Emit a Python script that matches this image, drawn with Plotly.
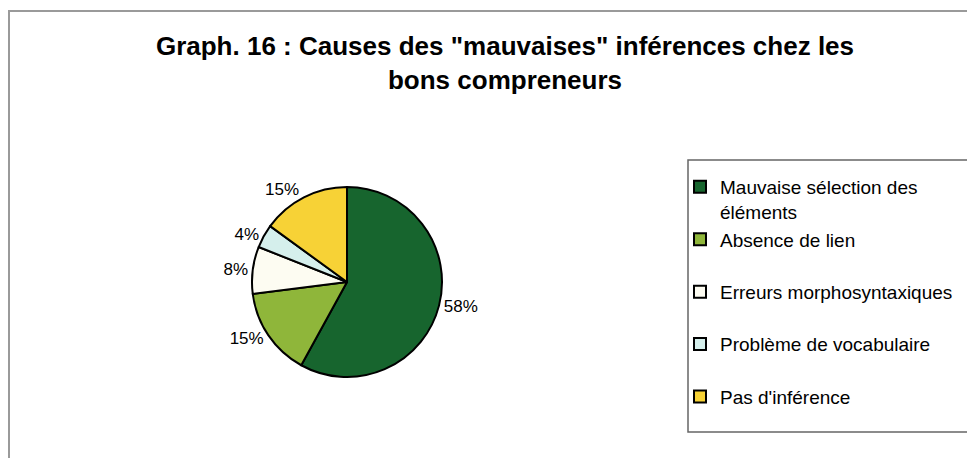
import plotly.graph_objects as go

categories = ["Mauvaise sélection des<br>éléments", "Absence de lien", "Erreurs morphosyntaxiques",
              "Problème de vocabulaire", "Pas d'inférence"]
values = [58, 15, 8, 4, 15]
colors = ["#17652e", "#8fb63a", "#fdfcf2", "#d5efec", "#f7d236"]

# pad single-line entries with a blank line to reproduce the legend spacing
legend_labels = [c if "<br>" in c else c + "<br> " for c in categories]

# page has an 8px body margin: figure fills the rest of the 975x458 window
OFF = 8
W, H = 975 - OFF, 458 - OFF


def px_x(x):
    return (x - OFF) / W


def px_y(y):
    return 1 - (y - OFF) / H


fig = go.Figure()
fig.add_trace(go.Pie(
    labels=legend_labels,
    values=values,
    sort=False,
    direction="clockwise",
    rotation=0,
    marker=dict(colors=colors, line=dict(color="black", width=2)),
    textposition="outside",
    texttemplate="%{percent:.0%}",
    textfont=dict(family="Arial, Liberation Sans", size=17, color="black"),
    domain=dict(x=[px_x(252), px_x(442)], y=[px_y(377), px_y(187)]),
    hoverinfo="label+percent",
))

fig.update_layout(
    width=W, height=H,
    margin=dict(l=0, r=0, t=0, b=0),
    paper_bgcolor="white",
    plot_bgcolor="white",
    title=dict(
        text="Graph. 16 : Causes des \"mauvaises\" inférences chez les<br>bons compreneurs",
        x=px_x(505), xanchor="center", y=px_y(55), yanchor="middle", yref="container",
        font=dict(family="Arial, Liberation Sans", size=26, color="black", weight="bold"),
    ),
    legend=dict(
        x=px_x(680), xanchor="left", y=px_y(168), yanchor="top",
        borderwidth=0, bgcolor="rgba(0,0,0,0)",
        font=dict(family="Arial, Liberation Sans", size=19, color="black"),
        valign="top", itemwidth=30,
    ),
    shapes=[
        dict(type="rect", xref="paper", yref="paper", x0=px_x(9), x1=1.05, y0=-0.05, y1=px_y(11),
             line=dict(color="#9a9a9a", width=2), fillcolor="rgba(0,0,0,0)"),
        dict(type="rect", xref="paper", yref="paper", x0=px_x(688), x1=1.05, y0=px_y(432), y1=px_y(160),
             line=dict(color="#666666", width=1.5), fillcolor="rgba(0,0,0,0)"),
    ],
)

fig.write_html("out.html")
